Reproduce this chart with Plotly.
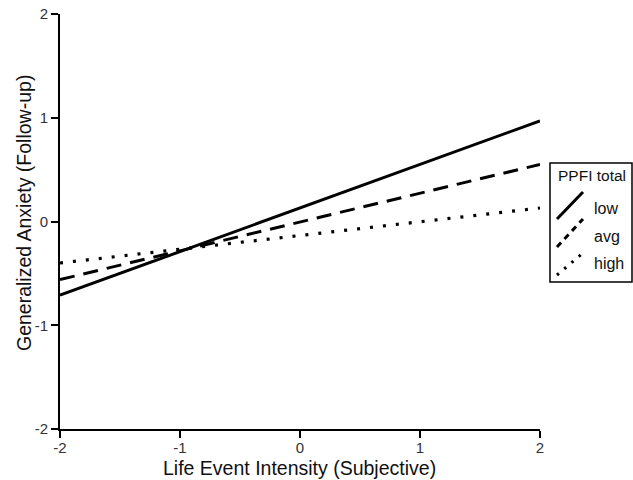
import plotly.graph_objects as go

x_vals = [-2, 2]
low_vals = [-0.71, 0.97]
avg_vals = [-0.56, 0.55]
high_vals = [-0.40, 0.13]
series_names = ["low", "avg", "high"]
tick_vals = [-2, -1, 0, 1, 2]
tick_text = ["-2", "-1", "0", "1", "2"]

W, H = 633, 480
ml, mr, mt, mb = 60, 93, 14, 51

fig = go.Figure()
styles = [("solid", 3), ("15px,9px", 3), ("3px,10px", 3.2)]
for name, vals, (dash, w) in zip(series_names, [low_vals, avg_vals, high_vals], styles):
    fig.add_trace(go.Scatter(x=x_vals, y=vals, mode="lines", name=name,
                             line=dict(color="black", width=w, dash=dash),
                             showlegend=False, hoverinfo="skip"))

font_family = "Liberation Sans, Arial, sans-serif"
axis_common = dict(range=[-2, 2], tickvals=tick_vals, ticktext=tick_text,
                   showgrid=False, zeroline=False, automargin=False,
                   showline=True, linecolor="black", linewidth=2,
                   ticks="outside", ticklen=7, tickwidth=2, tickcolor="black",
                   tickfont=dict(size=15, color="#333"))
fig.update_layout(
    width=W, height=H,
    margin=dict(l=ml, r=mr, t=mt, b=mb),
    paper_bgcolor="white", plot_bgcolor="white",
    font=dict(family=font_family, color="#222"),
    xaxis=dict(**axis_common, ticklabelstandoff=-3),
    yaxis=dict(**axis_common),
)

pw = W - ml - mr
ph = H - mt - mb
def px(xp):
    return (xp - ml) / pw
def py(yp):
    return (H - mb - yp) / ph

# axis titles
fig.add_annotation(xref="paper", yref="paper", x=px(299), y=py(480),
                   text="Life Event Intensity (Subjective)", showarrow=False,
                   xanchor="center", yanchor="bottom", borderpad=0,
                   font=dict(size=19.5, color="#111"))
fig.add_annotation(xref="paper", yref="paper", x=px(24), y=py(213),
                   text="Generalized Anxiety (Follow-up)", showarrow=False,
                   textangle=-90, xanchor="center", yanchor="middle",
                   font=dict(size=19.5, color="#111"))

# custom legend
fig.add_shape(type="rect", xref="paper", yref="paper",
              x0=px(550), x1=px(632), y0=py(282), y1=py(163),
              line=dict(color="black", width=1.5), fillcolor="white")
fig.add_annotation(xref="paper", yref="paper", x=px(556), y=py(176), text="PPFI total",
                   showarrow=False, xanchor="left", yanchor="middle",
                   font=dict(size=15.5, color="#111"))
leg = [("low", "solid", 219, 192, 208),
       ("avg", "6px,5px", 247, 219, 237),
       ("high", "2.5px,7px", 275, 253, 263)]
for name, dash, y0, y1, ty in leg:
    fig.add_shape(type="line", xref="paper", yref="paper",
                  x0=px(557), y0=py(y0), x1=px(583), y1=py(y1),
                  line=dict(color="black", width=3, dash=dash))
    fig.add_annotation(xref="paper", yref="paper", x=px(592), y=py(ty), text=name,
                       showarrow=False, xanchor="left", yanchor="middle",
                       font=dict(size=16, color="#111"))

fig.write_html("out.html")
